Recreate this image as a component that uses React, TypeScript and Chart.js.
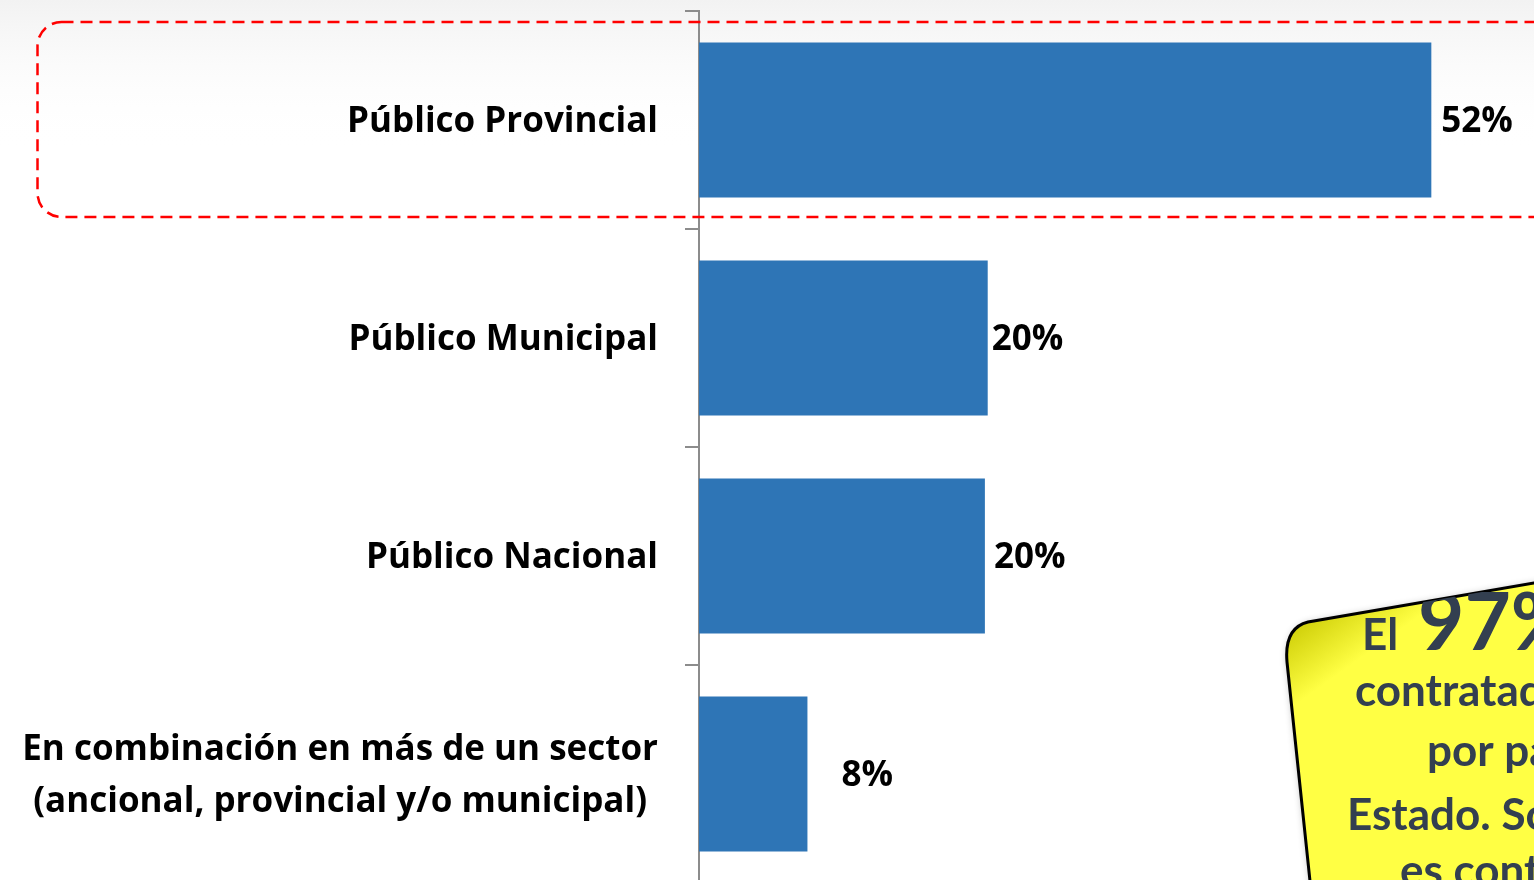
import React, { useEffect, useRef } from "react";
import { Chart, registerables } from "chart.js";

Chart.register(...registerables);

// ---- data ----
const categories: string[][] = [
  ["Público Provincial"],
  ["Público Municipal"],
  ["Público Nacional"],
  ["En combinación en más de un sector", "(ancional, provincial y/o municipal)"],
];
const shares: number[] = [52, 20.5, 20.3, 7.7];
const shareLabels: string[] = ["52%", "20%", "20%", "8%"];
const axisMax = 60;

// note text (decoration)
const noteHeadSmall = "El";
const noteHeadBig = "97%";
const noteLines: string[] = ["contratado", "por parte del", "Estado. Solo", "es contratado"];

// ---- styles ----
const BAR_COLOR = "#2E75B6";
const AXIS_COLOR = "#8c8c8c";
const LABEL_FONT = "bold 35px 'Open Sans'";
const labelNudge = [10, 4, 9, 34];
const TEXT_DY = 2;

const decorPlugin = {
  id: "decor",
  beforeDraw(chart: any) {
    const { ctx, width, height } = chart;
    ctx.save();
    ctx.fillStyle = "#ffffff";
    ctx.fillRect(0, 0, width, height);
    const g = ctx.createLinearGradient(0, 0, 0, 150);
    g.addColorStop(0, "#f2f2f2");
    g.addColorStop(1, "rgba(255,255,255,0)");
    ctx.fillStyle = g;
    ctx.fillRect(0, 0, width, 150);
    ctx.restore();
  },
  afterDatasetsDraw(chart: any) {
    const { ctx, chartArea } = chart;
    const yScale = chart.scales.y;
    const meta = chart.getDatasetMeta(0);
    ctx.save();
    ctx.fillStyle = "#000000";
    ctx.font = LABEL_FONT;
    ctx.textBaseline = "middle";
    const right = chartArea.left - 41;
    const lineH = 52;
    categories.forEach((lines, i) => {
      const cy = yScale.getPixelForValue(i) + TEXT_DY;
      const maxW = Math.max(...lines.map((l) => ctx.measureText(l).width));
      const cx = right - maxW / 2;
      ctx.textAlign = "center";
      lines.forEach((l, j) => {
        const y = cy + (j - (lines.length - 1) / 2) * lineH;
        ctx.fillText(l, cx, y);
      });
    });
    ctx.textAlign = "left";
    meta.data.forEach((bar: any, i: number) => {
      ctx.fillText(shareLabels[i], bar.x + labelNudge[i], bar.y + TEXT_DY);
    });
    ctx.restore();
  },
  afterDraw(chart: any) {
    const { ctx } = chart;
    const yScale = chart.scales.y;
    const c0 = yScale.getPixelForValue(0);
    ctx.save();
    ctx.strokeStyle = "#ff0000";
    ctx.lineWidth = 2.5;
    ctx.setLineDash([12, 7]);
    ctx.beginPath();
    (ctx as any).roundRect(37.5, c0 - 98, 1560, 195, 24);
    ctx.stroke();
    ctx.restore();

    // sticky note
    ctx.save();
    const path = new Path2D();
    path.moveTo(1287, 662);
    path.quadraticCurveTo(1284, 628, 1308, 622);
    path.lineTo(1580, 575);
    path.lineTo(1580, 900);
    path.lineTo(1312, 900);
    path.closePath();
    ctx.shadowColor = "rgba(0,0,0,0.45)";
    ctx.shadowBlur = 8;
    ctx.shadowOffsetX = 2;
    ctx.shadowOffsetY = 2;
    const fg = ctx.createLinearGradient(1287, 620, 1330, 680);
    fg.addColorStop(0, "#c8c800");
    fg.addColorStop(1, "#ffff44");
    ctx.fillStyle = fg;
    ctx.fill(path);
    ctx.shadowColor = "transparent";
    ctx.strokeStyle = "#000000";
    ctx.lineWidth = 3;
    ctx.stroke(path);
    ctx.clip(path);
    ctx.fillStyle = "#333F50";
    ctx.textBaseline = "alphabetic";
    ctx.textAlign = "left";
    ctx.font = "bold 44px Lato";
    ctx.fillText(noteHeadSmall, 1362, 650);
    ctx.font = "bold 80px Lato";
    ctx.fillText(noteHeadBig, 1418, 650);
    ctx.font = "bold 44px Lato";
    const xs = [1355, 1427, 1347, 1400];
    const ys = [706, 766, 830, 886];
    noteLines.forEach((l, i) => ctx.fillText(l, xs[i], ys[i]));
    ctx.restore();
  },
};

export default function App() {
  const ref = useRef<HTMLCanvasElement | null>(null);
  useEffect(() => {
    document.body.style.margin = "0";
    const canvas = ref.current!;
    const chart = new Chart(canvas, {
      type: "bar",
      data: {
        labels: categories as any,
        datasets: [
          {
            data: shares,
            backgroundColor: BAR_COLOR,
            borderWidth: 0,
            barPercentage: 0.711,
            categoryPercentage: 1,
          },
        ],
      },
      options: {
        indexAxis: "y",
        responsive: false,
        animation: false,
        devicePixelRatio: 1,
        layout: { padding: { top: 11, left: 0, right: 0, bottom: 0 } },
        plugins: { legend: { display: false }, tooltip: { enabled: false } },
        scales: {
          x: { display: false, min: 0, max: axisMax },
          y: {
            display: true,
            afterFit: (scale: any) => {
              scale.width = 699;
            },
            ticks: { display: false },
            grid: {
              display: true,
              drawOnChartArea: false,
              drawTicks: true,
              tickLength: 14,
              offset: true,
              color: AXIS_COLOR,
              lineWidth: 2,
            },
            border: { display: true, color: AXIS_COLOR, width: 2 },
          },
        },
      },
      plugins: [decorPlugin],
    });
    return () => chart.destroy();
  }, []);
  return (
    <div
      style={{
        position: "fixed",
        left: 0,
        top: 0,
        width: 1534,
        height: 880,
        overflow: "hidden",
        background: "#fff",
      }}
    >
      <canvas ref={ref} width={1544} height={883} style={{ display: "block" }} />
    </div>
  );
}
